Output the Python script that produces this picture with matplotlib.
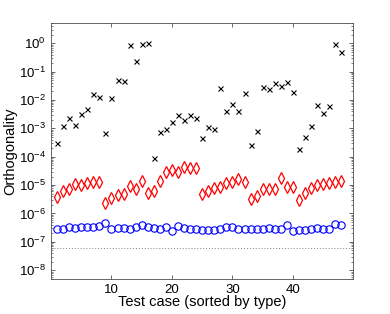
import matplotlib
matplotlib.use("Agg")
import matplotlib.pyplot as plt
import numpy as np
from matplotlib.ticker import LogLocator, FixedLocator, NullFormatter

plt.rcParams['font.family'] = ['Liberation Sans', 'DejaVu Sans']
plt.rcParams['mathtext.default'] = 'regular'

test_case = list(range(1, 49))

# log10 of orthogonality
black_log10 = [-3.52, -2.91, -2.65, -2.89, -2.49, -2.30, -1.79, -1.90, -3.15, -1.94,
               -1.30, -1.33, -0.05, -0.63, -0.01, 0.01, -4.05, -3.11, -3.03, -2.79,
               -2.54, -2.70, -2.54, -2.64, -3.34, -2.94, -3.01, -1.57, -2.40, -2.15,
               -2.38, -1.75, -3.58, -3.10, -1.55, -1.62, -1.40, -1.49, -1.37, -1.71,
               -3.72, -3.31, -2.90, -2.16, -2.45, -2.22, -0.04, -0.30]
red_log10 = [-5.41, -5.20, -5.15, -4.96, -5.00, -4.92, -4.90, -4.88, -5.62, -5.47,
             -5.35, -5.33, -5.02, -5.14, -4.85, -5.26, -5.20, -4.86, -4.52, -4.47,
             -4.55, -4.37, -4.40, -4.40, -5.32, -5.19, -5.09, -5.06, -4.94, -4.88,
             -4.80, -4.88, -5.48, -5.38, -5.15, -5.14, -5.13, -4.74, -5.06, -5.07,
             -5.53, -5.27, -5.11, -5.01, -4.96, -4.94, -4.90, -4.86]
blue_log10 = [-6.55, -6.54, -6.49, -6.51, -6.48, -6.47, -6.46, -6.44, -6.35, -6.56,
              -6.51, -6.51, -6.56, -6.47, -6.42, -6.49, -6.52, -6.56, -6.48, -6.62,
              -6.44, -6.50, -6.53, -6.55, -6.59, -6.59, -6.59, -6.56, -6.49, -6.49,
              -6.56, -6.56, -6.56, -6.56, -6.53, -6.50, -6.56, -6.56, -6.42, -6.61,
              -6.59, -6.58, -6.56, -6.51, -6.53, -6.56, -6.37, -6.42]
eps_line = 2.0 ** -24

x = np.array(test_case)
black = 10.0 ** np.array(black_log10)
red = 10.0 ** np.array(red_log10)
blue = 10.0 ** np.array(blue_log10)

fig = plt.figure(figsize=(3.9, 3.14), dpi=100)
ax = fig.add_axes([0.1308, 0.1105, 0.7752, 0.8153])

ax.axhline(eps_line, color='0.5', linestyle=(0, (1, 2)), linewidth=0.7)
ax.plot(x, black, linestyle='none', marker='x', color='k', markersize=3.6, markeredgewidth=0.8)
ax.plot(x, red, linestyle='none', marker='d', markerfacecolor='none', markeredgecolor='r',
        markersize=5.8, markeredgewidth=0.9)
ax.plot(x, blue, linestyle='none', marker='o', markerfacecolor='none', markeredgecolor='b',
        markersize=5.3, markeredgewidth=0.8)

ax.set_yscale('log')
ax.set_xlim(0, 50)
ax.set_ylim(10 ** -8.32, 10 ** 0.705)
ax.xaxis.set_major_locator(FixedLocator([10, 20, 30, 40]))
ax.yaxis.set_major_locator(LogLocator(base=10, numticks=20))
ax.yaxis.set_minor_locator(LogLocator(base=10, subs=np.arange(2, 10), numticks=20))
ax.yaxis.set_minor_formatter(NullFormatter())

ax.tick_params(which='both', direction='in', top=True, right=True, labelsize=9.5, color='0.3')
ax.tick_params(which='major', length=3, width=0.6)
ax.tick_params(which='minor', length=1.6, width=0.5)
for s in ax.spines.values():
    s.set_linewidth(0.6)
    s.set_color('0.3')

ax.set_xlabel('Test case (sorted by type)', fontsize=10.5, labelpad=-1)
ax.set_ylabel('Orthogonality', fontsize=10.5, labelpad=1)

fig.savefig('out.png', dpi=100)
